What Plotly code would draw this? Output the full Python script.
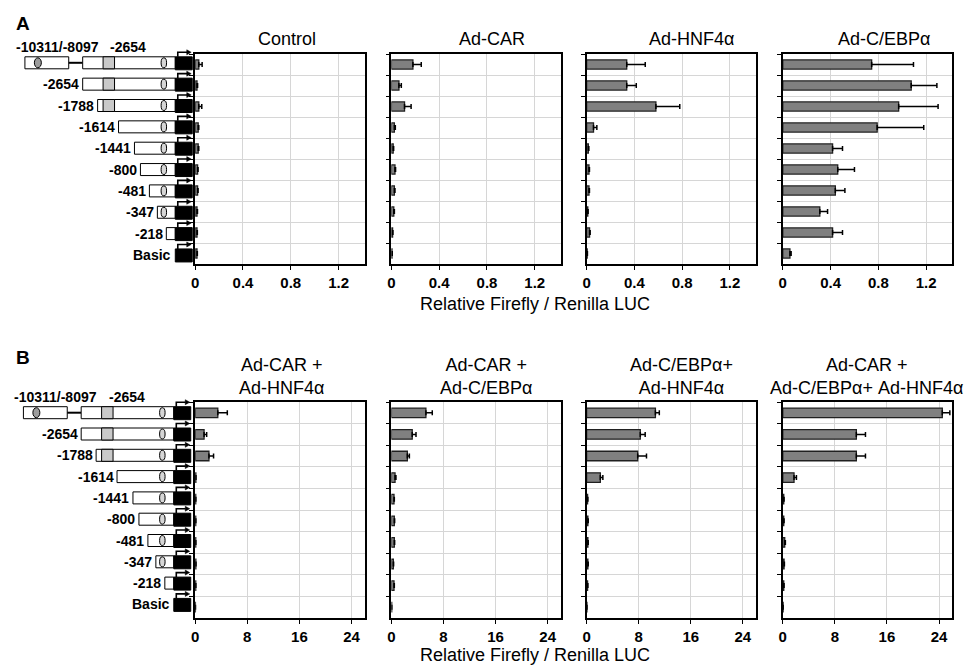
import plotly.graph_objects as go

W, H = 968, 669

constructs = ["-10311/-8097", "-2654", "-1788", "-1614", "-1441",
              "-800", "-481", "-347", "-218", "Basic"]

# Panel A values (Relative Firefly / Renilla LUC) and upper error
control = [0.03, 0.015, 0.03, 0.025, 0.025, 0.02, 0.02, 0.015, 0.015, 0.015]
control_err = [0.028, 0.005, 0.025, 0.005, 0.005, 0.004, 0.004, 0.004, 0.003, 0.003]
ad_car = [0.18, 0.063, 0.11, 0.025, 0.015, 0.03, 0.025, 0.02, 0.01, 0.005]
ad_car_err = [0.07, 0.02, 0.055, 0.008, 0.004, 0.005, 0.005, 0.005, 0.003, 0.002]
ad_hnf4a = [0.336, 0.336, 0.58, 0.058, 0.015, 0.02, 0.02, 0.01, 0.025, 0.005]
ad_hnf4a_err = [0.155, 0.08, 0.2, 0.028, 0.004, 0.004, 0.004, 0.003, 0.005, 0.002]
ad_cebpa = [0.744, 1.075, 0.97, 0.79, 0.417, 0.46, 0.44, 0.31, 0.417, 0.06]
ad_cebpa_err = [0.35, 0.215, 0.33, 0.39, 0.083, 0.14, 0.08, 0.065, 0.083, 0.01]

# Panel B values
car_hnf = [3.47, 1.36, 2.11, 0.1, 0.08, 0.08, 0.08, 0.1, 0.08, 0.03]
car_hnf_err = [1.46, 0.4, 0.71, 0.02, 0.02, 0.02, 0.02, 0.02, 0.02, 0.01]
car_cebp = [5.3, 3.2, 2.45, 0.56, 0.4, 0.45, 0.45, 0.3, 0.4, 0.05]
car_cebp_err = [0.98, 0.58, 0.31, 0.14, 0.05, 0.05, 0.05, 0.04, 0.05, 0.01]
cebp_hnf = [10.57, 8.25, 7.85, 2.11, 0.15, 0.2, 0.2, 0.2, 0.15, 0.05]
cebp_hnf_err = [0.6, 0.75, 1.35, 0.39, 0.05, 0.05, 0.05, 0.05, 0.05, 0.01]
car_cebp_hnf = [24.5, 11.3, 11.3, 1.73, 0.15, 0.15, 0.3, 0.2, 0.15, 0.05]
car_cebp_hnf_err = [1.16, 1.4, 1.4, 0.37, 0.05, 0.05, 0.1, 0.05, 0.05, 0.01]

titles_a = ["Control", "Ad-CAR", "Ad-HNF4α", "Ad-C/EBPα"]
titles_b = ["Ad-CAR +<br>Ad-HNF4α", "Ad-CAR +<br>Ad-C/EBPα",
            "Ad-C/EBPα+<br>Ad-HNF4α", "Ad-CAR +<br>Ad-C/EBPα+ Ad-HNF4α"]
ticks_a = [0, 0.4, 0.8, 1.2]
ticks_b = [0, 8, 16, 24]
axis_title = "Relative Firefly / Renilla LUC"

panels = [
    (control, control_err), (ad_car, ad_car_err),
    (ad_hnf4a, ad_hnf4a_err), (ad_cebpa, ad_cebpa_err),
    (car_hnf, car_hnf_err), (car_cebp, car_cebp_err),
    (cebp_hnf, cebp_hnf_err), (car_cebp_hnf, car_cebp_hnf_err),
]

FONT = "Arial, Liberation Sans, sans-serif"


def X(x):
    return x / W


def Y(y):
    return 1 - y / H


cols_px = [(192, 362), (389, 559), (585, 755), (782, 952)]
rows_px = [(54, 264), (402, 618)]

fig = go.Figure()
layout = {}
for k, (vals, errs) in enumerate(panels):
    i = k + 1
    r = k // 4
    c = k % 4
    fig.add_trace(go.Bar(
        x=vals, y=constructs, orientation="h",
        xaxis=f"x{i}", yaxis=f"y{i}",
        marker=dict(color="#808080", line=dict(color="#202020", width=1.3)),
        error_x=dict(type="data", array=errs, arrayminus=[0] * len(errs),
                     symmetric=False, color="black", thickness=1.5, width=2.5),
        showlegend=False, hoverinfo="x+y",
    ))
    xa = "xaxis" if i == 1 else f"xaxis{i}"
    ya = "yaxis" if i == 1 else f"yaxis{i}"
    x0, x1 = cols_px[c]
    y0, y1 = rows_px[r]
    tv = ticks_a if r == 0 else ticks_b
    rng = [0, 1.417] if r == 0 else [0, 26]
    layout[xa] = dict(
        domain=[X(x0), X(x1)], anchor=f"y{i}", range=rng,
        tickvals=tv, ticktext=[f"{t:g}" for t in tv],
        showgrid=True, gridcolor="#d6d6d6", gridwidth=1,
        showline=True, linecolor="black", linewidth=1.5, mirror=True,
        ticks="outside", ticklen=4, tickcolor="black", tickwidth=1,
        zeroline=False, fixedrange=True,
        tickfont=dict(family=FONT, size=15, color="black", weight="bold"),
    )
    layout[ya] = dict(
        domain=[Y(y1), Y(y0)], anchor=f"x{i}", type="category",
        categoryorder="array", categoryarray=constructs,
        autorange="reversed", tickson="boundaries",
        showticklabels=False, showgrid=True, gridcolor="#d6d6d6", gridwidth=1,
        showline=True, linecolor="black", linewidth=1.5, mirror=True,
        ticks="outside", ticklen=4, tickcolor="black", tickwidth=1,
        zeroline=False, fixedrange=True,
    )

# ---------------- construct diagrams ----------------
shapes = []
annotations = []

construct_start = [79, 79, 94, 115, 131, 137, 146, 154, 163, None]
has_square = [True, True, True, False, False, False, False, False, False, False]
has_oval = [True, True, True, True, True, True, True, True, False, False]


def rect(x0, x1, y0, y1, fill, lw=1.0):
    shapes.append(dict(type="rect", xref="paper", yref="paper",
                       x0=X(x0), x1=X(x1), y0=Y(y1), y1=Y(y0),
                       fillcolor=fill, line=dict(color="black", width=lw)))


def oval(xc, yc, w, h, fill):
    shapes.append(dict(type="circle", xref="paper", yref="paper",
                       x0=X(xc - w / 2), x1=X(xc + w / 2),
                       y0=Y(yc + h / 2), y1=Y(yc - h / 2),
                       fillcolor=fill, line=dict(color="black", width=1)))


def line(x0, y0, x1, y1, w=2):
    shapes.append(dict(type="line", xref="paper", yref="paper",
                       x0=X(x0), y0=Y(y0), x1=X(x1), y1=Y(y1),
                       line=dict(color="black", width=w)))


def path(pts, fill=None, w=1.5):
    d = "M " + " L ".join(f"{X(a):.5f},{Y(b):.5f}" for a, b in pts)
    if fill:
        d += " Z"
    shapes.append(dict(type="path", xref="paper", yref="paper", path=d,
                       fillcolor=fill if fill else "rgba(0,0,0,0)",
                       line=dict(color="black", width=w)))


def label(text, x, y, anchor="right", size=14):
    annotations.append(dict(text=text, x=X(x), y=Y(y), xref="paper", yref="paper",
                            xanchor=anchor, yanchor="middle", showarrow=False,
                            font=dict(family=FONT, size=size, color="black",
                                      weight="bold")))


def diagram(top_c, step, dx):
    for i in range(10):
        c = top_c + i * step
        start = construct_start[i]
        if i == 0:
            rect(21 + dx, 65 + dx, c - 6, c + 6, "white")
            oval(34 + dx, c, 7, 10, "#9c9c9c")
            line(65 + dx, c, 79 + dx, c, 2)
            label("-10311/-8097", 53.5 + dx, c - 15.5, anchor="center")
            label("-2654", 125 + dx, c - 15.5, anchor="center")
        if start is not None:
            rect(start + dx, 172 + dx, c - 6, c + 6, "white")
            if has_square[i]:
                rect(99.5 + dx, 111 + dx, c - 6, c + 6, "#c9c9c9")
            if has_oval[i]:
                oval(160.5 + dx, c, 5.5, 10, "#d6d6d6")
            if i > 0:
                label(constructs[i], start + dx - 1.5, c)
        else:
            label(constructs[i], 170 + dx, c)
        rect(172 + dx, 189 + dx, c - 6, c + 7, "black")
        path([(174.5 + dx, c - 6), (174.5 + dx, c - 10.5), (184 + dx, c - 10.5)], w=1.6)
        path([(183.5 + dx, c - 13), (188 + dx, c - 10.5), (183.5 + dx, c - 8)], fill="black", w=0.5)


diagram(62.8, 21.35, 0)
diagram(412.7, 21.3, -1.5)

# ---------------- titles and labels ----------------
title_x_a = [284, 490, 690, 884]
title_x_b = [279, 484, 680, 866]
for k in range(4):
    annotations.append(dict(text=titles_a[k], x=X(title_x_a[k]), y=Y(39),
                            xref="paper", yref="paper", xanchor="center", yanchor="middle",
                            showarrow=False, font=dict(family=FONT, size=18, color="black")))
    annotations.append(dict(text=titles_b[k], x=X(title_x_b[k]), y=Y(376),
                            xref="paper", yref="paper", xanchor="center", yanchor="middle",
                            showarrow=False, font=dict(family=FONT, size=18, color="black")))

for yy in (304, 655):
    annotations.append(dict(text=axis_title, x=X(533), y=Y(yy), xref="paper", yref="paper",
                            xanchor="center", yanchor="middle", showarrow=False,
                            font=dict(family=FONT, size=18, color="black")))

annotations.append(dict(text="A", x=X(10), y=Y(24), xref="paper", yref="paper",
                        xanchor="left", yanchor="middle", showarrow=False,
                        font=dict(family=FONT, size=19, color="black", weight="bold")))
annotations.append(dict(text="B", x=X(10), y=Y(357), xref="paper", yref="paper",
                        xanchor="left", yanchor="middle", showarrow=False,
                        font=dict(family=FONT, size=19, color="black", weight="bold")))

fig.update_layout(
    width=W, height=H, autosize=False,
    margin=dict(l=0, r=0, t=0, b=0),
    paper_bgcolor="white", plot_bgcolor="white",
    bargap=0.56, shapes=shapes, annotations=annotations,
    font=dict(family=FONT, color="black"),
    **layout,
)

fig.write_html(
    "out.html",
    config={"displayModeBar": False},
    post_script="document.body.style.margin='0px';document.body.style.overflow='hidden';",
)
